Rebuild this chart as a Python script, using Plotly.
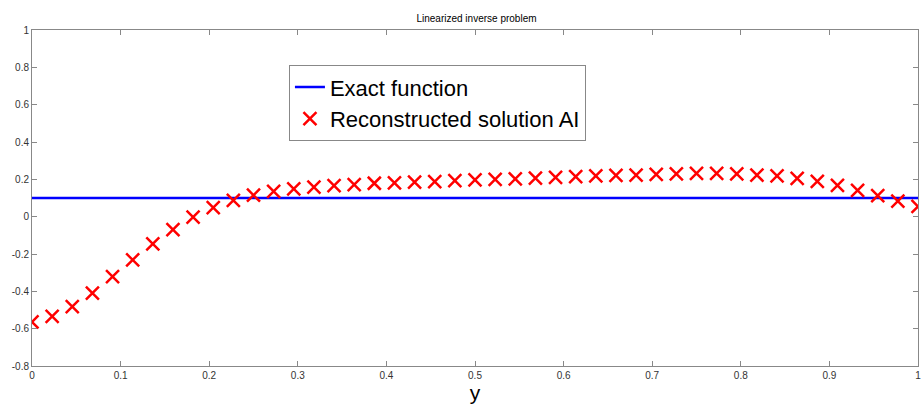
import numpy as np
import plotly.graph_objects as go

n_points = 45
x_vals = [i / 44 for i in range(n_points)]
exact_y = 0.1
recon_y = [-0.564, -0.534, -0.482, -0.410, -0.321, -0.232, -0.146, -0.069, -0.002, 0.049,
           0.087, 0.115, 0.135, 0.149, 0.158, 0.166, 0.172, 0.179, 0.181, 0.185,
           0.188, 0.193, 0.197, 0.200, 0.202, 0.207, 0.211, 0.214, 0.218, 0.221,
           0.223, 0.227, 0.229, 0.232, 0.232, 0.229, 0.223, 0.218, 0.205, 0.189,
           0.168, 0.141, 0.113, 0.083, 0.055]
x_ticks = [0, 0.1, 0.2, 0.3, 0.4, 0.5, 0.6, 0.7, 0.8, 0.9, 1]
x_tick_labels = ["0", "0.1", "0.2", "0.3", "0.4", "0.5", "0.6", "0.7", "0.8", "0.9", "1"]
y_ticks = [-0.8, -0.6, -0.4, -0.2, 0, 0.2, 0.4, 0.6, 0.8, 1]
y_tick_labels = ["-0.8", "-0.6", "-0.4", "-0.2", "0", "0.2", "0.4", "0.6", "0.8", "1"]

fig = go.Figure()
fig.add_trace(go.Scatter(
    x=[0, 1], y=[exact_y, exact_y], mode="lines", name="Exact function",
    line=dict(color="#0000ff", width=2.5), cliponaxis=True))
fig.add_trace(go.Scatter(
    x=x_vals, y=recon_y, mode="markers", name="Reconstructed solution AI",
    marker=dict(symbol="x-thin", size=13, color="#ff0000",
                line=dict(color="#ff0000", width=2.5)), cliponaxis=True))

axis_common = dict(showline=True, linecolor="#888888", linewidth=1, mirror="ticks",
                   ticks="inside", ticklen=5, tickcolor="#888888", showgrid=False,
                   zeroline=False, ticklabeloverflow="allow",
                   tickfont=dict(family="Liberation Sans", size=10, color="#333333"))
fig.update_xaxes(range=[0, 1], tickvals=x_ticks, ticktext=x_tick_labels,
                 title=dict(text="y", font=dict(family="Liberation Sans", size=21, color="#000000"),
                            standoff=4), **axis_common)
fig.update_yaxes(range=[-0.8, 1], tickvals=y_ticks, ticktext=y_tick_labels, **axis_common)

fig.update_layout(
    width=923, height=407,
    margin=dict(l=32, r=2, t=30, b=41),
    plot_bgcolor="white", paper_bgcolor="white",
    title=dict(text="Linearized inverse problem", x=(32 + 921) / 2 / 923, xanchor="center",
               y=1 - 18 / 407, yanchor="middle",
               font=dict(family="Liberation Sans", size=10, color="#000000")),
    legend=dict(x=0.29, y=0.895, xanchor="left", yanchor="top",
                bordercolor="#888888", borderwidth=1, bgcolor="white",
                font=dict(family="Liberation Sans", size=22, color="#000000"),
                itemwidth=30, tracegroupgap=0),
    showlegend=True,
)

fig.write_html("out.html")
